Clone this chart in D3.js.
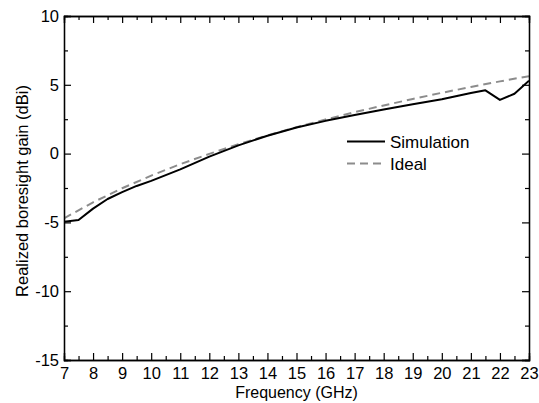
<!DOCTYPE html>
<html>
<head>
<meta charset="utf-8">
<script src="https://cdn.jsdelivr.net/npm/d3@7"></script>
<style>
  html, body { margin: 0; padding: 0; background: #fff; }
  svg { display: block; font-family: "Liberation Sans", Arial, sans-serif; }
</style>
</head>
<body>
<svg id="chart" width="539" height="403"></svg>
<script>
const simFreq = [7, 7.5, 8, 8.5, 9, 9.5, 10, 11, 12, 13, 14, 15, 16, 17, 18, 19, 20, 21, 21.5, 22, 22.5, 23];
const simGain = [-4.95, -4.83, -4.0, -3.3, -2.8, -2.35, -1.98, -1.15, -0.22, 0.6, 1.3, 1.9, 2.38, 2.8, 3.2, 3.58, 3.95, 4.4, 4.6, 3.9, 4.35, 5.3];
const idealFreq = [7, 8, 9, 10, 11, 12, 13, 14, 15, 16, 17, 18, 19, 20, 21, 22, 23];
const idealGain = [-4.7, -3.54, -2.52, -1.6, -0.77, -0.02, 0.68, 1.32, 1.92, 2.48, 3.01, 3.5, 3.97, 4.42, 4.84, 5.25, 5.63];
const xTicks = [7, 8, 9, 10, 11, 12, 13, 14, 15, 16, 17, 18, 19, 20, 21, 22, 23];
const yTicks = [-15, -10, -5, 0, 5, 10];
const seriesNames = ["Simulation", "Ideal"];

const svg = d3.select("#chart");
const L = 64, R = 529, T = 16, B = 360;
const x = d3.scaleLinear().domain([7, 23]).range([L, R]);
const y = d3.scaleLinear().domain([-15, 10]).range([B, T]);

const xMinor = d3.range(7, 23.01, 0.5).filter(v => !xTicks.includes(v));
const yMinor = d3.range(-15, 10.01, 2.5).filter(v => !yTicks.includes(v));

const g = svg.append("g");

svg.append("defs").append("clipPath").attr("id", "clip")
  .append("rect").attr("x", L).attr("y", T).attr("width", R - L).attr("height", B - T);

const lineGen = d3.line().x(d => x(d[0])).y(d => y(d[1]));

const plot = g.append("g").attr("clip-path", "url(#clip)");
plot.append("path")
  .datum(idealFreq.map((f, i) => [f, idealGain[i]]))
  .attr("d", lineGen).attr("fill", "none")
  .attr("stroke", "#8c8c8c").attr("stroke-width", 2).attr("stroke-dasharray", "8,5");
plot.append("path")
  .datum(simFreq.map((f, i) => [f, simGain[i]]))
  .attr("d", lineGen).attr("fill", "none")
  .attr("stroke", "#000").attr("stroke-width", 2).attr("stroke-linejoin", "round");

const fmt = d => String(d);
const xBottom = d3.axisBottom(x).tickValues(xTicks).tickSize(-7).tickPadding(7).tickFormat(fmt);
const xBottomMinor = d3.axisBottom(x).tickValues(xMinor).tickSize(-4).tickFormat("");
const xTop = d3.axisTop(x).tickValues(xTicks).tickSize(-7).tickFormat("");
const xTopMinor = d3.axisTop(x).tickValues(xMinor).tickSize(-4).tickFormat("");
const yLeft = d3.axisLeft(y).tickValues(yTicks).tickSize(-7).tickPadding(5).tickFormat(fmt);
const yLeftMinor = d3.axisLeft(y).tickValues(yMinor).tickSize(-4).tickFormat("");
const yRight = d3.axisRight(y).tickValues(yTicks).tickSize(-7).tickFormat("");
const yRightMinor = d3.axisRight(y).tickValues(yMinor).tickSize(-4).tickFormat("");

function style(sel) {
  sel.selectAll("path").attr("stroke", "#000").attr("stroke-width", 1.3);
  sel.selectAll("line").attr("stroke", "#000").attr("stroke-width", 1.2);
  sel.selectAll("text").attr("fill", "#000").attr("font-size", 16.5)
     .attr("font-family", "Liberation Sans, Arial, sans-serif");
}
[[xBottom, `translate(0,${B})`], [xBottomMinor, `translate(0,${B})`],
 [xTop, `translate(0,${T})`], [xTopMinor, `translate(0,${T})`],
 [yLeft, `translate(${L},0)`], [yLeftMinor, `translate(${L},0)`],
 [yRight, `translate(${R},0)`], [yRightMinor, `translate(${R},0)`]].forEach(([ax, tr]) => {
  const s = g.append("g").attr("transform", tr).call(ax);
  style(s);
});

g.append("text").attr("x", (L + R) / 2).attr("y", 398).attr("text-anchor", "middle")
  .attr("font-size", 16).text("Frequency (GHz)");
g.append("text").attr("transform", `translate(28,191) rotate(-90)`).attr("text-anchor", "middle")
  .attr("font-size", 16.5).text("Realized boresight gain (dBi)");

const leg = g.append("g");
const legY = [141.5, 163.5];
const legStyles = [{ c: "#000", d: null }, { c: "#8c8c8c", d: "8,5" }];
seriesNames.forEach((name, i) => {
  const ln = leg.append("line").attr("x1", 347).attr("x2", 385)
    .attr("y1", legY[i]).attr("y2", legY[i])
    .attr("stroke", legStyles[i].c).attr("stroke-width", 2);
  if (legStyles[i].d) ln.attr("stroke-dasharray", legStyles[i].d);
  leg.append("text").attr("x", 390).attr("y", legY[i] + 6).attr("font-size", 17).text(name);
});
</script>
</body>
</html>
